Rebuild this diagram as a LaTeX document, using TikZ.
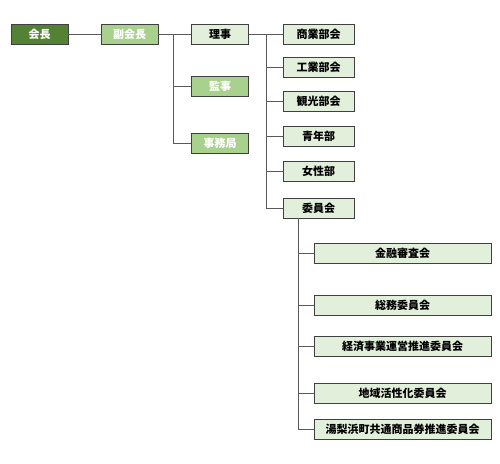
\documentclass[tikz,border=0pt]{standalone}
\usepackage{fontspec}
\setmainfont{Noto Sans CJK JP}
\definecolor{darkg}{HTML}{548235}
\definecolor{midg}{HTML}{A9D18E}
\definecolor{lightg}{HTML}{E2EFDA}
\definecolor{bord}{HTML}{404040}
\definecolor{lin}{HTML}{595959}
\tikzset{
  box/.style={draw=bord, line width=0.9pt, minimum height=20pt, inner sep=0pt, font=\fontsize{11}{11}\selectfont\bfseries},
  topbox/.style={box, minimum width=57pt},
  dark/.style={fill=darkg, text=white},
  mid/.style={fill=midg, text=white},
  light/.style={fill=lightg, text=black},
  secbox/.style={box, light, minimum width=71pt},
  combox/.style={box, light, minimum width=177pt},
  conn/.style={draw=lin, line width=1pt}
}
\begin{document}
\begin{tikzpicture}[x=1pt,y=-1pt]
\useasboundingbox (0,0) rectangle (500,463);
\node[topbox,dark] (kaicho) at (39.5,34) {会長};
\node[topbox,mid] (fuku) at (129.5,34) {副会長};
\node[topbox,light] (riji) at (220,34) {理事};
\node[topbox,mid] (kanji) at (220,86) {監事};
\node[topbox,mid] (jimu) at (220,143) {事務局};

\node[secbox] (shogyo) at (318.7,34) {商業部会};
\node[secbox] (kogyo) at (318.7,67) {工業部会};
\node[secbox] (kanko) at (318.7,101.7) {観光部会};
\node[secbox] (seinen) at (318.7,136.3) {青年部};
\node[secbox] (josei) at (318.7,171) {女性部};
\node[secbox] (iin) at (318.7,208) {委員会};

\node[combox] (kinyu) at (402.5,253.7) {金融審査会};
\node[combox] (somu) at (402.5,305) {総務委員会};
\node[combox] (keizai) at (402.5,346) {経済事業運営推進委員会};
\node[combox] (chiiki) at (402.5,393) {地域活性化委員会};
\node[combox] (yuri) at (402.5,429.2) {湯梨浜町共通商品券推進委員会};

\coordinate (v1) at (173.7,34);
\coordinate (v2) at (266,34);
\coordinate (v3) at (298,218);

\draw[conn] (kaicho) -- (fuku);
\draw[conn] (fuku) -- (riji);
\draw[conn] (v1) |- (kanji.west);
\draw[conn] (v1) |- (jimu.west);

\draw[conn] (riji) -- (shogyo);
\draw[conn] (v2) |- (kogyo.west);
\draw[conn] (v2) |- (kanko.west);
\draw[conn] (v2) |- (seinen.west);
\draw[conn] (v2) |- (josei.west);
\draw[conn] (v2) |- (iin.west);

\draw[conn] (iin.south -| v3) |- (kinyu.west);
\draw[conn] (v3) |- (somu.west);
\draw[conn] (v3) |- (keizai.west);
\draw[conn] (v3) |- (chiiki.west);
\draw[conn] (v3) |- (yuri.west);
\end{tikzpicture}
\end{document}
